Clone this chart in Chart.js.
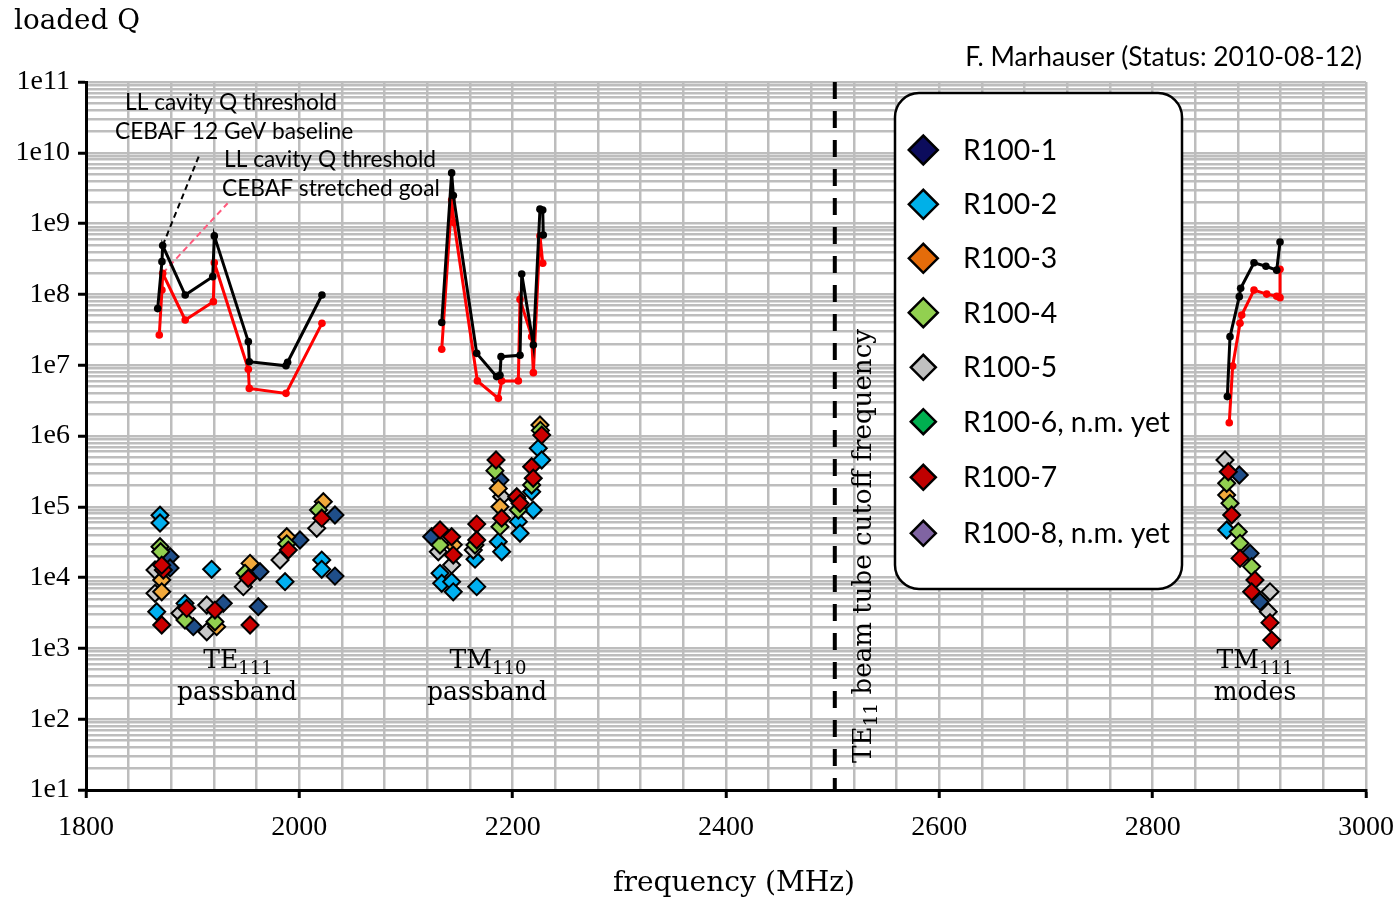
<!DOCTYPE html>
<html><head><meta charset="utf-8">
<script src="https://cdn.jsdelivr.net/npm/chart.js@4.4.1/dist/chart.umd.min.js"></script>
<style>html,body{margin:0;padding:0;background:#fff}canvas{display:block}</style>
</head><body>
<canvas id="c" width="1393" height="908"></canvas>
<script>
// ---------------- DATA ----------------
const seriesNames = ['R100-1','R100-2','R100-3','R100-4','R100-5','R100-6, n.m. yet','R100-7','R100-8, n.m. yet'];

const r1_f = [1878.8,1878.8,1900.6,1928.7,1963.1,1961.5,2000.6,2033.4,2033.4,2124.1,2188.1,2881.2,2891.3,2900.6];
const r1_q = [1.97e4,1.37e4,2.03e3,4.33e3,1.21e4,3.88e3,3.4e4,7.65e4,1.05e4,3.78e4,2.39e5,2.81e5,2.2e4,4.57e3];

const r2_f = [1869.4,1869.4,1866.3,1892.8,1917.8,1986.6,2021.0,2021.0,2131.9,2133.5,2142.8,2144.3,2164.7,2166.3,2186.5,2189.7,2205.3,2206.9,2217.8,2219.3,2224.0,2227.2,2869.4];
const r2_q = [7.6e4,5.9e4,3.3e3,4.33e3,1.31e4,8.75e3,1.77e4,1.31e4,1.15e4,8.3e3,8.75e3,6.3e3,1.82e4,7.45e3,3.21e4,2.32e4,6.17e4,4.23e4,1.63e5,9.0e4,6.7e5,4.58e5,4.7e4];

const r3_f = [1871.0,1871.0,1922.5,1953.8,1988.2,2022.5,2144.3,2186.5,2188.1,2225.6,2869.4];
const r3_q = [9.25e3,6.3e3,2.03e3,1.59e4,3.78e4,1.18e5,2.9e4,1.82e5,1.0e5,1.43e6,1.47e5];

const r4_f = [1869.4,1870.0,1892.8,1920.9,1949.1,1988.2,2018.0,2131.9,2164.7,2183.4,2188.1,2205.3,2217.8,2226.0,2869.4,2872.5,2880.3,2881.9,2892.8];
const r4_q = [2.73e4,2.32e4,2.52e3,2.38e3,1.15e4,3.0e4,9.0e4,2.88e4,2.88e4,3.24e5,5.24e4,9.0e4,2.03e5,1.2e6,2.15e5,1.12e5,4.45e4,3.05e4,1.43e4];

const r5_f = [1864.7,1864.7,1888.1,1913.2,1913.2,1947.5,1981.9,2016.3,2130.3,2142.8,2163.1,2189.7,2204.0,2867.8,2910.0,2908.4];
const r5_q = [1.28e4,6.0e3,3.13e3,4.1e3,1.72e3,7.45e3,1.77e4,4.97e4,2.32e4,1.51e4,2.45e4,1.39e5,1.3e5,4.58e5,6.3e3,3.3e3];

const r6_f = [];
const r6_q = [];

const r7_f = [1872.5,1871.0,1871.0,1894.4,1920.9,1952.1,1953.8,1989.7,2021.0,2131.9,2142.8,2144.3,2166.3,2166.3,2184.4,2189.7,2203.8,2206.9,2217.8,2219.3,2227.2,2870.9,2874.1,2881.9,2895.9,2892.8,2910.0,2911.6];
const r7_q = [1.28e4,1.5e4,2.14e3,3.68e3,3.48e3,9.8e3,2.14e3,2.45e4,6.9e4,4.7e4,3.78e4,2.08e4,5.7e4,3.4e4,4.58e5,6.9e4,1.39e5,1.12e5,3.68e5,2.53e5,1.03e6,3.13e5,7.65e4,1.87e4,9.25e3,6.3e3,2.31e3,1.31e3];

const r8_f = [];
const r8_q = [];

// LL cavity Q threshold, CEBAF 12 GeV baseline (black)
const base_te_f = [1867.2,1871.2,1871.9,1893.0,1918.8,1920.3,1952.2,1953.1,1987.5,1989.0,2021.2];
const base_te_q = [6.3e7,2.9e8,4.9e8,9.8e7,1.78e8,6.7e8,2.15e7,1.12e7,9.8e6,1.1e7,9.8e7];
const base_tm0_f = [2133.5,2142.8,2144.4,2166.3,2185.0,2188.1,2189.1,2206.9,2208.5,2219.4,2225.6,2228.2,2228.7];
const base_tm0_q = [4.0e7,5.2e9,2.5e9,1.47e7,6.9e6,7.2e6,1.32e7,1.38e7,1.94e8,1.93e7,1.6e9,1.55e9,6.9e8];
const base_tm1_f = [2870.0,2872.5,2881.2,2882.5,2895.0,2906.2,2916.3,2919.4];
const base_tm1_q = [3.6e6,2.53e7,9.3e7,1.22e8,2.8e8,2.5e8,2.2e8,5.5e8];

// LL cavity Q threshold, CEBAF stretched goal (red)
const str_te_f = [1868.7,1871.2,1871.9,1893.0,1919.4,1920.3,1952.2,1953.1,1987.5,2021.2];
const str_te_q = [2.67e7,1.15e8,1.99e8,4.35e7,7.9e7,2.8e8,8.75e6,4.7e6,4.0e6,3.9e7];
const str_tm0_f = [2133.5,2142.8,2145.0,2166.9,2186.6,2189.7,2205.3,2206.9,2217.8,2219.4,2225.6,2228.2];
const str_tm0_q = [1.68e7,2.15e9,1.03e9,6.0e6,3.4e6,6.0e6,6.0e6,8.5e7,2.53e7,7.85e6,6.7e8,2.75e8];
const str_tm1_f = [2871.8,2875.0,2881.9,2883.5,2895.0,2906.9,2916.3,2919.4,2919.4];
const str_tm1_q = [1.54e6,9.75e6,3.9e7,5.1e7,1.15e8,1.01e8,9.4e7,9.0e7,2.26e8];

// guide lines (dashed threshold trends and cutoff)
const guideBase_f = [1871.9,1906.2];
const guideBase_q = [4.9e8,9.3e9];
const guideStr_f = [1871.9,1932.8];
const guideStr_q = [1.99e8,1.94e9];
const cutoffFreq = 2502;
const yRange = [10,1e11];
const xRange = [1800,3000];

// ---------------- STYLE ----------------
const plotColors = ['#1f4e89','#00b0f0','#f2a93b','#92d050','#c8c8c8','#00b050','#cc0000','#8064a2'];
const legendColors = ['#0c0c5c','#00b0e8','#e46c0a','#92d050','#c0c0c0','#00b050','#c00000','#8064a2'];
const drawOrder = [6,5,3,2,4,1,1,1];

const zip = (f,q)=>f.map((v,i)=>({x:v,y:q[i]}));
const seriesF = [r1_f,r2_f,r3_f,r4_f,r5_f,r6_f,r7_f,r8_f];
const seriesQ = [r1_q,r2_q,r3_q,r4_q,r5_q,r6_q,r7_q,r8_q];

const datasets = [];
seriesNames.forEach((n,i)=>{
  datasets.push({label:n, data:zip(seriesF[i],seriesQ[i]), pointStyle:'rectRot', pointRadius:8.5,
    backgroundColor:plotColors[i], borderColor:'#000', borderWidth:2, showLine:false, order:drawOrder[i]});
});
function lineDs(label,f,q,color){
  return {label, data:zip(f,q), showLine:true, borderColor:color, backgroundColor:color, borderWidth:3,
    pointRadius:3.8, pointStyle:'circle', pointBorderWidth:0, order:0, tension:0};
}
datasets.push(lineDs('12 GeV baseline TE111',base_te_f,base_te_q,'#000'));
datasets.push(lineDs('12 GeV baseline TM110',base_tm0_f,base_tm0_q,'#000'));
datasets.push(lineDs('12 GeV baseline TM111',base_tm1_f,base_tm1_q,'#000'));
datasets.push(lineDs('stretched goal TE111',str_te_f,str_te_q,'#ff0000'));
datasets.push(lineDs('stretched goal TM110',str_tm0_f,str_tm0_q,'#ff0000'));
datasets.push(lineDs('stretched goal TM111',str_tm1_f,str_tm1_q,'#ff0000'));
datasets.push({label:'baseline trend', data:zip(guideBase_f,guideBase_q), showLine:true, borderColor:'#000',
  borderWidth:2, borderDash:[6,4], pointRadius:0, order:0});
datasets.push({label:'stretched trend', data:zip(guideStr_f,guideStr_q), showLine:true, borderColor:'#ff5a7d',
  borderWidth:2, borderDash:[6,4], pointRadius:0, order:0});
datasets.push({label:'TE11 cutoff', data:[{x:cutoffFreq,y:yRange[1]},{x:cutoffFreq,y:yRange[0]}], showLine:true,
  borderColor:'#000', borderWidth:4, borderDash:[17,12], pointRadius:0, order:0});

// ---------------- TEXT HELPERS ----------------
const SERIF = '"DejaVu Serif"';
const SANS = 'Lato';
function fitSize(ctx,text,family,target){
  ctx.font = '100px '+family;
  return 100*target/ctx.measureText(text).width;
}
function drawText(ctx,text,x,y,size,family,align){
  ctx.font = size.toFixed(2)+'px '+family;
  ctx.textAlign = align||'left';
  ctx.textBaseline = 'middle';
  ctx.fillStyle = '#000';
  ctx.fillText(text,x,y);
}
function richWidth(ctx,parts,size,family){
  let w=0;
  parts.forEach(p=>{ctx.font=(p[1]?size*0.72:size).toFixed(2)+'px '+family; w+=ctx.measureText(p[0]).width;});
  return w;
}
// parts: [[text,isSub],...]; draws centered/left at x, middle at y
function drawRich(ctx,parts,x,y,size,family,align){
  const subSize = size*0.72;
  const w = richWidth(ctx,parts,size,family);
  let cx = align==='center' ? x - w/2 : x;
  ctx.textAlign='left'; ctx.textBaseline='alphabetic'; ctx.fillStyle='#000';
  const base = y + size*0.36;
  parts.forEach(p=>{
    ctx.font=(p[1]?subSize:size).toFixed(2)+'px '+family;
    ctx.fillText(p[0], cx, p[1]? base + size*0.22 : base);
    cx += ctx.measureText(p[0]).width;
  });
  return w;
}
function diamond(ctx,x,y,r,fill){
  ctx.beginPath();
  ctx.moveTo(x-r,y); ctx.lineTo(x,y-r); ctx.lineTo(x+r,y); ctx.lineTo(x,y+r); ctx.closePath();
  ctx.fillStyle=fill; ctx.fill(); ctx.lineWidth=2.5; ctx.strokeStyle='#000'; ctx.stroke();
}

const textPlugin = {
  id:'texts',
  afterDraw(chart){
    const ctx = chart.ctx;
    ctx.save();
    // axis titles
    drawText(ctx,'loaded Q',14,22,fitSize(ctx,'loaded Q',SERIF,126),SERIF,'left');
    drawText(ctx,'frequency (MHz)',734,884,fitSize(ctx,'frequency (MHz)',SERIF,242),SERIF,'center');
    // status
    const st='F. Marhauser (Status: 2010-08-12)';
    drawText(ctx,st,1362,57,fitSize(ctx,st,SANS,397),SANS,'right');
    // threshold annotations
    const a1='LL cavity Q threshold', a2='CEBAF 12 GeV baseline', a3='CEBAF stretched goal';
    const sA = fitSize(ctx,a1,SANS,212);
    drawText(ctx,a1,125,103,sA,SANS,'left');
    drawText(ctx,a2,115,132,sA,SANS,'left');
    drawText(ctx,a1,224,160,sA,SANS,'left');
    drawText(ctx,a3,222,189,sA,SANS,'left');
    // passband labels
    const sP = fitSize(ctx,'passband',SERIF,120);
    drawRich(ctx,[['TE',false],['111',true]],238,659,sP,SERIF,'center');
    drawText(ctx,'passband',237,693,sP,SERIF,'center');
    drawRich(ctx,[['TM',false],['110',true]],488,659,sP,SERIF,'center');
    drawText(ctx,'passband',487,693,sP,SERIF,'center');
    drawRich(ctx,[['TM',false],['111',true]],1255,659,sP,SERIF,'center');
    drawText(ctx,'modes',1255,693,sP,SERIF,'center');
    // rotated cutoff label
    ctx.save();
    ctx.translate(862,763);
    ctx.rotate(-Math.PI/2);
    const rparts = [['TE',false],['11',true],[' beam tube cutoff frequency',false]];
    const rs = 100*434/richWidth(ctx,rparts,100,SERIF);
    drawRich(ctx,rparts,0,0,rs,SERIF,'left');
    ctx.restore();
    // legend
    const bx=895, by=93, bw=287, bh=496, rr=24;
    ctx.beginPath();
    ctx.roundRect(bx,by,bw,bh,rr);
    ctx.fillStyle='#fff'; ctx.fill();
    ctx.lineWidth=2.5; ctx.strokeStyle='#000'; ctx.stroke();
    const rows=[150,204.3,258.3,312.7,367.3,421.7,477.3,533.3];
    const sL = fitSize(ctx,'R100-6, n.m. yet',SANS,207);
    seriesNames.forEach((n,i)=>{
      diamond(ctx,923.3,rows[i], i<4?14.5:12.5, legendColors[i]);
      drawText(ctx,n,963,rows[i]+1,sL,SANS,'left');
    });
    ctx.restore();
  }
};

// ---------------- CHART ----------------
const isDecade = v => { const e=Math.round(Math.log10(v)); return Math.abs(v-Math.pow(10,e)) < 1e-6*v; };

new Chart(document.getElementById('c'), {
  type:'scatter',
  data:{datasets},
  options:{
    responsive:false, animation:false, devicePixelRatio:1,
    layout:{padding:{left:0,right:27,top:82,bottom:0}},
    plugins:{legend:{display:false}, tooltip:{enabled:false}},
    scales:{
      x:{type:'linear', min:xRange[0], max:xRange[1],
        afterFit(s){ s.height=118; s.paddingLeft=0; s.paddingRight=0; },
        ticks:{stepSize:40, autoSkip:false, maxRotation:0, minRotation:0, padding:13, color:'#000',
          font:{family:'"Liberation Serif"', size:28},
          callback:v => (Math.round(v)%200===0) ? String(Math.round(v)) : ''},
        grid:{color:'#bdbdbd', lineWidth:2.5, tickLength:8, tickWidth:3,
          tickColor:c => (c.tick && Math.round(c.tick.value)%200===0) ? '#000' : 'rgba(0,0,0,0)'},
        border:{color:'#000', width:3}
      },
      y:{type:'logarithmic', min:yRange[0], max:yRange[1],
        afterFit(s){ s.width=86; s.paddingTop=0; s.paddingBottom=0; },
        afterBuildTicks(s){
          const t=[];
          for(let e=1;e<=11;e++){ for(let m=1;m<=9;m++){ if(e===11 && m>1) break; t.push({value:m*Math.pow(10,e)}); } }
          s.ticks=t;
        },
        ticks:{autoSkip:false, padding:8, color:'#000', font:{family:'"Liberation Serif"', size:28},
          callback:v => isDecade(v) ? '1e'+Math.round(Math.log10(v)) : ''},
        grid:{color:'#bdbdbd', lineWidth:2.5, tickLength:8, tickWidth:3,
          tickColor:c => (c.tick && isDecade(c.tick.value)) ? '#000' : 'rgba(0,0,0,0)'},
        border:{color:'#000', width:3}
      }
    }
  },
  plugins:[textPlugin]
});
</script>
</body></html>
